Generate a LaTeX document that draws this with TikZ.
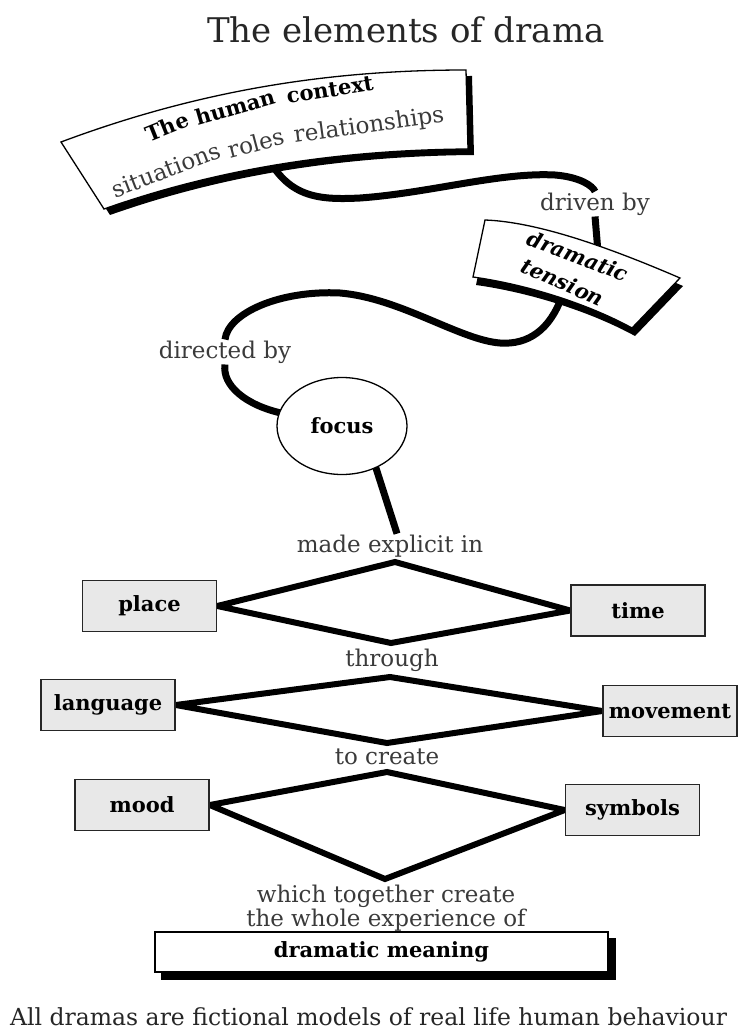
\documentclass[tikz,border=0pt]{standalone}
\usepackage{fontspec}
\setmainfont{DejaVu Serif}
\usetikzlibrary{shapes.geometric,calc}
\pgfdeclarelayer{bg}
\pgfsetlayers{bg,main}
\definecolor{boxgray}{HTML}{E8E8E8}
\definecolor{labelgray}{HTML}{3A3A3A}
\begin{document}
\begin{tikzpicture}[x=1pt,y=-1pt,
  conn/.style={line width=7pt},
  diam/.style={line width=6pt, line join=miter},
  lbl/.style={font=\fontsize{23}{23}\selectfont, text=labelgray, inner sep=1pt},
  graybox/.style={draw=black!85, line width=1.6pt, fill=boxgray, minimum width=134pt, minimum height=51pt, inner sep=0pt, font=\fontsize{21}{21}\selectfont\bfseries},
  bannertext/.style={font=\fontsize{21}{21}\selectfont\bfseries, inner sep=0pt},
  bannersub/.style={font=\fontsize{23}{23}\selectfont, text=labelgray, inner sep=0pt},
  tentext/.style={font=\fontsize{21}{21}\selectfont\bfseries\itshape, inner sep=0pt},
  outline/.style={draw=black, line width=1.3pt, fill=white},
]
\useasboundingbox (0,0) rectangle (739,1032);

% title
\node[font=\fontsize{34}{34}\selectfont, text=black!85] (title) at (406,30) {The elements of drama};

% ---- human context banner
\begin{scope}[shift={(6,6)}]
\fill[black] (61,142) .. controls (200,90) and (330,70) .. (466,70) -- (468,149) .. controls (340,150) and (220,168) .. (104,209) -- cycle;
\end{scope}
\path[outline] (61,142) .. controls (200,90) and (330,70) .. (466,70) -- (468,149) .. controls (340,150) and (220,168) .. (104,209) -- cycle;
\node[bannertext, rotate=22] (hcThe) at (167,127) {The};
\node[bannertext, rotate=16] (hcHuman) at (235,107) {human};
\node[bannertext, rotate=9] (hcContext) at (330,90) {context};
\node[bannersub, rotate=21] (hcSit) at (166,170) {situations};
\node[bannersub, rotate=15] (hcRoles) at (256,143) {roles};
\node[bannersub, rotate=8] (hcRel) at (369,126) {relationships};
\coordinate (hcout) at (268,158);

% ---- driven by
\node[lbl] (driven) at (595,204) {driven by};

% ---- dramatic tension banner
\begin{scope}[shift={(3,8)}]
\fill[black] (485,220) .. controls (540,222) and (615,250) .. (680,278) -- (632,328) .. controls (590,305) and (530,285) .. (473,277) -- cycle;
\end{scope}
\path[outline] (485,220) .. controls (540,222) and (615,250) .. (680,278) -- (632,328) .. controls (590,305) and (530,285) .. (473,277) -- cycle;
\node[tentext, rotate=-21] (tenDram) at (578,256) {dramatic};
\node[tentext, rotate=-24] (tenTens) at (563,282) {tension};
\coordinate (tentop) at (598,252);
\coordinate (tenbot) at (562,296);

% ---- directed by
\node[lbl] (directed) at (225,352) {directed by};

% ---- focus
\node[ellipse, outline, minimum width=130pt, minimum height=97pt, inner sep=0pt, font=\fontsize{21}{21}\selectfont\bfseries] (focus) at (342,426) {focus};

% ---- made explicit in
\node[lbl] (made) at (390,546) {made explicit in};

% ---- element boxes
\node[graybox] (place) at (149.5,606) {place};
\node[graybox] (time) at (638,610.5) {time};
\node[lbl] (through) at (392,660) {through};
\node[graybox] (language) at (108,705) {language};
\node[graybox] (movement) at (670,711) {movement};
\node[lbl] (tocreate) at (387,757) {to create};
\node[graybox] (mood) at (142,805) {mood};
\node[graybox] (symbols) at (632.5,810) {symbols};

\coordinate (d1t) at (395,562);
\coordinate (d1b) at (391,643);
\coordinate (d2t) at (390,677);
\coordinate (d2b) at (387,743);
\coordinate (d3t) at (387,772);
\coordinate (d3b) at (385,879);

\node[lbl, align=center, font=\fontsize{23}{22}\selectfont] (which) at (386,908) {which together create\\the whole experience of};

\node[outline, minimum width=453pt, minimum height=40pt, inner sep=0pt, font=\fontsize{21}{21}\selectfont\bfseries] (meaning) at (381.5,952) {dramatic meaning};

\node[anchor=west, font=\fontsize{23.5}{24}\selectfont, text=black!85, inner sep=0pt] (foot) at (10,1017) {All dramas are fictional models of real life human behaviour};

% ---- connectors (behind)
\begin{pgfonlayer}{bg}
\draw[conn] (hcout) .. controls (290,198) and (320,200) .. (360,198) .. controls (430,193) and (500,172) .. (555,175) .. controls (580,177) and (593,186) .. (driven.north);
\draw[conn] (driven.south) -- (tentop);
\draw[conn] (tenbot) .. controls (550,330) and (528,345) .. (500,343) .. controls (460,340) and (400,298) .. (340,293) .. controls (280,290) and (228,313) .. (directed.north);
\draw[conn] (directed.south) .. controls (222,385) and (245,405) .. ($(focus.center)!0.95!(focus.168)$);
\draw[conn] ($(focus.center)!0.95!(focus.-50)$) -- ([xshift=7pt]made.north);
\draw[diam] (place.east) -- (d1t) -- (time.west) -- (d1b) -- cycle;
\draw[diam] (language.east) -- (d2t) -- (movement.west) -- (d2b) -- cycle;
\draw[diam] (mood.east) -- (d3t) -- (symbols.west) -- (d3b) -- cycle;
\fill[black] ([shift={(7,7)}]meaning.north west) rectangle ([shift={(7,7)}]meaning.south east);
\end{pgfonlayer}
\end{tikzpicture}
\end{document}
